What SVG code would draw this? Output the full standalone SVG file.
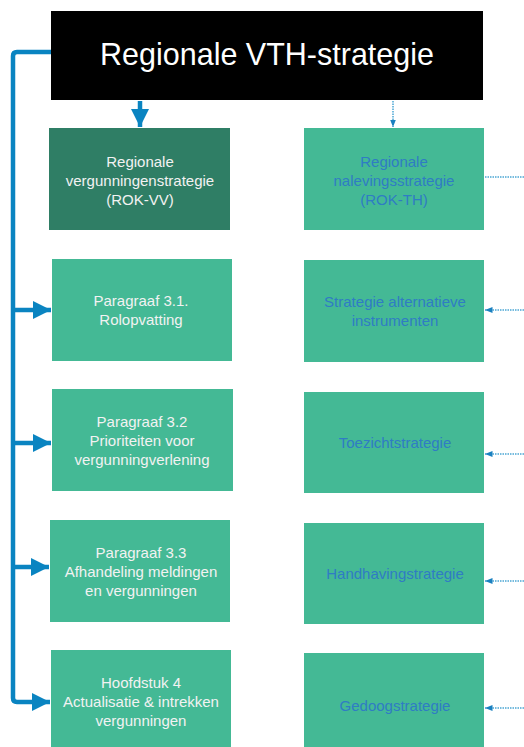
<svg xmlns="http://www.w3.org/2000/svg" width="524" height="747" viewBox="0 0 524 747">
<style>
.dark{fill:#2f7e65}
.light{fill:#44b995}
.wt{font-family:"Liberation Sans",Arial,sans-serif;font-size:15px;fill:#f2f2f2;text-anchor:middle}
.bt{font-family:"Liberation Sans",Arial,sans-serif;font-size:15px;fill:#2f7cc4;text-anchor:middle}
.solid{fill:none;stroke:#0a84c1;stroke-width:4.5;stroke-linejoin:round}
.dot{fill:none;stroke:#4aa6d4;stroke-width:1.5;stroke-dasharray:1.5 1}
</style>
<defs>
<marker id="ah" viewBox="0 0 10 10" refX="10" refY="5" markerWidth="4.2" markerHeight="4" markerUnits="strokeWidth" orient="auto">
<path d="M0,0 L10,5 L0,10 z" fill="#0a84c1"/>
</marker>
<marker id="dh" viewBox="0 0 10 10" refX="10" refY="5" markerWidth="5" markerHeight="5" markerUnits="strokeWidth" orient="auto">
<path d="M0,1 L10,5 L0,9 z" fill="#1a80c0"/>
</marker>
</defs>
<rect width="524" height="747" fill="#ffffff"/>
<g id="n-top">
<rect x="51" y="11" width="432" height="89" fill="#000000"/>
<text x="267" y="65" font-family="'Liberation Sans',Arial,sans-serif" font-size="30.5" fill="#ffffff" text-anchor="middle">Regionale VTH-strategie</text>
</g>
<g id="connectors">
<path class="solid" d="M51,52 H17 Q13,52 13,56 V698 Q13,702 17,702 H50" marker-end="url(#ah)"/>
<path class="solid" d="M13,310 H51" marker-end="url(#ah)"/>
<path class="solid" d="M13,443 H51" marker-end="url(#ah)"/>
<path class="solid" d="M13,567 H49" marker-end="url(#ah)"/>
<path class="solid" d="M140,101 V127" marker-end="url(#ah)"/>
<path class="dot" d="M393,101 V127" marker-end="url(#dh)"/>
<path class="dot" d="M485,177 H524"/>
<path class="dot" d="M524,310 H485" marker-end="url(#dh)"/>
<path class="dot" d="M524,454 H485" marker-end="url(#dh)"/>
<path class="dot" d="M524,581 H485" marker-end="url(#dh)"/>
<path class="dot" d="M524,708 H485" marker-end="url(#dh)"/>
</g>
<g id="n-rokvv">
<rect class="dark" x="49" y="128" width="181" height="102"/>
<text class="wt" x="140" y="167">Regionale</text>
<text class="wt" x="140" y="186">vergunningenstrategie</text>
<text class="wt" x="140" y="205">(ROK-VV)</text>
</g>
<g id="n-rokth">
<rect class="light" x="304" y="128" width="180" height="102"/>
<text class="bt" x="394" y="167">Regionale</text>
<text class="bt" x="394" y="186">nalevingsstrategie</text>
<text class="bt" x="394" y="205">(ROK-TH)</text>
</g>
<g id="n-p31">
<rect class="light" x="52" y="259" width="180" height="102"/>
<text class="wt" x="141" y="306">Paragraaf 3.1.</text>
<text class="wt" x="141" y="325">Rolopvatting</text>
</g>
<g id="n-p32">
<rect class="light" x="52" y="389" width="181" height="102"/>
<text class="wt" x="142" y="427">Paragraaf 3.2</text>
<text class="wt" x="142" y="446">Prioriteiten voor</text>
<text class="wt" x="142" y="465">vergunningverlening</text>
</g>
<g id="n-p33">
<rect class="light" x="50" y="520" width="180" height="102"/>
<text class="wt" x="141" y="558">Paragraaf 3.3</text>
<text class="wt" x="141" y="577">Afhandeling meldingen</text>
<text class="wt" x="141" y="596">en vergunningen</text>
</g>
<g id="n-h4">
<rect class="light" x="51" y="650" width="180" height="102"/>
<text class="wt" x="141" y="688">Hoofdstuk 4</text>
<text class="wt" x="141" y="707">Actualisatie &amp; intrekken</text>
<text class="wt" x="141" y="726">vergunningen</text>
</g>
<g id="n-sai">
<rect class="light" x="304" y="260" width="180" height="102"/>
<text class="bt" x="395" y="307">Strategie alternatieve</text>
<text class="bt" x="395" y="326">instrumenten</text>
</g>
<g id="n-toez">
<rect class="light" x="304" y="392" width="180" height="101"/>
<text class="bt" x="395" y="448">Toezichtstrategie</text>
</g>
<g id="n-handh">
<rect class="light" x="304" y="523" width="180" height="101"/>
<text class="bt" x="395" y="579">Handhavingstrategie</text>
</g>
<g id="n-gedoog">
<rect class="light" x="304" y="653" width="180" height="100"/>
<text class="bt" x="395" y="711">Gedoogstrategie</text>
</g>
</svg>
